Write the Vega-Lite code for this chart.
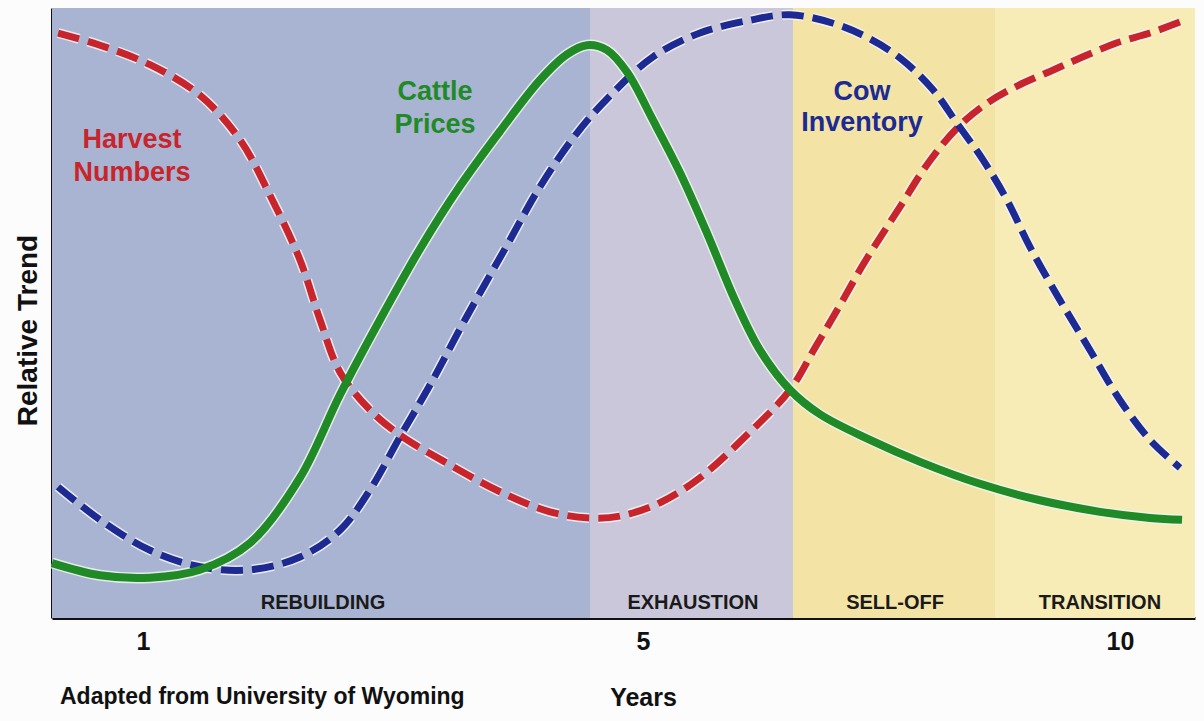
{
  "$schema": "https://vega.github.io/schema/vega-lite/v6.json",
  "width": 1143,
  "height": 610,
  "autosize": {"type": "none"},
  "padding": {"left": 52, "top": 8, "right": 9, "bottom": 103},
  "background": "#fcfcfd",
  "config": {"view": {"stroke": null}, "font": "Liberation Sans"},
  "title": {
    "text": "Adapted from University of Wyoming",
    "orient": "bottom",
    "anchor": "start",
    "frame": "group",
    "offset": -24,
    "dx": 8,
    "fontSize": 23,
    "fontWeight": "bold",
    "color": "#111111"
  },
  "datasets": {
    "phases": [
      {"phase": "REBUILDING", "year": 0.272, "year_end": 4.576, "mid": 2.44, "value": 2.46},
      {"phase": "EXHAUSTION", "year": 4.576, "year_end": 6.572, "mid": 5.524, "value": 2.46},
      {"phase": "SELL-OFF", "year": 6.572, "year_end": 8.69, "mid": 7.642, "value": 2.46},
      {"phase": "TRANSITION", "year": 8.69, "year_end": 10.786, "mid": 9.79, "value": 2.46}
    ],
    "curves": [
      {"series": "Harvest Numbers", "year": 0.32, "value": 95.9},
      {"series": "Harvest Numbers", "year": 0.656, "value": 93.9},
      {"series": "Harvest Numbers", "year": 1.056, "value": 90.7},
      {"series": "Harvest Numbers", "year": 1.456, "value": 85.7},
      {"series": "Harvest Numbers", "year": 1.776, "value": 78.4},
      {"series": "Harvest Numbers", "year": 2.016, "value": 69.3},
      {"series": "Harvest Numbers", "year": 2.256, "value": 58.7},
      {"series": "Harvest Numbers", "year": 2.416, "value": 48.9},
      {"series": "Harvest Numbers", "year": 2.576, "value": 40.3},
      {"series": "Harvest Numbers", "year": 2.816, "value": 34.1},
      {"series": "Harvest Numbers", "year": 3.056, "value": 30.0},
      {"series": "Harvest Numbers", "year": 3.456, "value": 25.1},
      {"series": "Harvest Numbers", "year": 3.856, "value": 20.7},
      {"series": "Harvest Numbers", "year": 4.256, "value": 17.4},
      {"series": "Harvest Numbers", "year": 4.576, "value": 16.4},
      {"series": "Harvest Numbers", "year": 4.816, "value": 16.7},
      {"series": "Harvest Numbers", "year": 5.178, "value": 18.9},
      {"series": "Harvest Numbers", "year": 5.597, "value": 23.0},
      {"series": "Harvest Numbers", "year": 6.122, "value": 30.5},
      {"series": "Harvest Numbers", "year": 6.541, "value": 37.4},
      {"series": "Harvest Numbers", "year": 6.803, "value": 44.3},
      {"series": "Harvest Numbers", "year": 7.065, "value": 51.3},
      {"series": "Harvest Numbers", "year": 7.306, "value": 57.9},
      {"series": "Harvest Numbers", "year": 7.516, "value": 63.1},
      {"series": "Harvest Numbers", "year": 7.694, "value": 67.4},
      {"series": "Harvest Numbers", "year": 7.977, "value": 74.3},
      {"series": "Harvest Numbers", "year": 8.291, "value": 80.3},
      {"series": "Harvest Numbers", "year": 8.606, "value": 84.4},
      {"series": "Harvest Numbers", "year": 8.92, "value": 87.2},
      {"series": "Harvest Numbers", "year": 9.266, "value": 89.6},
      {"series": "Harvest Numbers", "year": 9.612, "value": 92.0},
      {"series": "Harvest Numbers", "year": 9.969, "value": 94.3},
      {"series": "Harvest Numbers", "year": 10.314, "value": 95.9},
      {"series": "Harvest Numbers", "year": 10.629, "value": 97.7},
      {"series": "Cow Inventory", "year": 0.32, "value": 21.5},
      {"series": "Cow Inventory", "year": 0.656, "value": 16.1},
      {"series": "Cow Inventory", "year": 1.056, "value": 11.1},
      {"series": "Cow Inventory", "year": 1.456, "value": 8.4},
      {"series": "Cow Inventory", "year": 1.856, "value": 7.9},
      {"series": "Cow Inventory", "year": 2.256, "value": 10.0},
      {"series": "Cow Inventory", "year": 2.576, "value": 14.4},
      {"series": "Cow Inventory", "year": 2.816, "value": 21.0},
      {"series": "Cow Inventory", "year": 3.056, "value": 29.7},
      {"series": "Cow Inventory", "year": 3.296, "value": 38.2},
      {"series": "Cow Inventory", "year": 3.576, "value": 48.9},
      {"series": "Cow Inventory", "year": 3.912, "value": 61.1},
      {"series": "Cow Inventory", "year": 4.176, "value": 70.7},
      {"series": "Cow Inventory", "year": 4.472, "value": 79.5},
      {"series": "Cow Inventory", "year": 4.76, "value": 86.1},
      {"series": "Cow Inventory", "year": 5.105, "value": 92.0},
      {"series": "Cow Inventory", "year": 5.597, "value": 95.9},
      {"series": "Cow Inventory", "year": 6.122, "value": 98.0},
      {"series": "Cow Inventory", "year": 6.541, "value": 98.9},
      {"series": "Cow Inventory", "year": 6.992, "value": 97.5},
      {"series": "Cow Inventory", "year": 7.348, "value": 95.2},
      {"series": "Cow Inventory", "year": 7.694, "value": 91.8},
      {"series": "Cow Inventory", "year": 8.04, "value": 86.6},
      {"series": "Cow Inventory", "year": 8.291, "value": 81.1},
      {"series": "Cow Inventory", "year": 8.564, "value": 75.1},
      {"series": "Cow Inventory", "year": 8.816, "value": 68.5},
      {"series": "Cow Inventory", "year": 9.057, "value": 60.8},
      {"series": "Cow Inventory", "year": 9.371, "value": 52.1},
      {"series": "Cow Inventory", "year": 9.686, "value": 43.9},
      {"series": "Cow Inventory", "year": 10.0, "value": 35.7},
      {"series": "Cow Inventory", "year": 10.314, "value": 29.2},
      {"series": "Cow Inventory", "year": 10.629, "value": 24.6},
      {"series": "Cattle Prices", "year": 0.272, "value": 9.0},
      {"series": "Cattle Prices", "year": 0.656, "value": 7.0},
      {"series": "Cattle Prices", "year": 1.056, "value": 6.6},
      {"series": "Cattle Prices", "year": 1.456, "value": 7.9},
      {"series": "Cattle Prices", "year": 1.856, "value": 12.3},
      {"series": "Cattle Prices", "year": 2.256, "value": 23.0},
      {"series": "Cattle Prices", "year": 2.576, "value": 36.6},
      {"series": "Cattle Prices", "year": 2.896, "value": 48.9},
      {"series": "Cattle Prices", "year": 3.216, "value": 60.5},
      {"series": "Cattle Prices", "year": 3.536, "value": 70.8},
      {"series": "Cattle Prices", "year": 3.856, "value": 79.8},
      {"series": "Cattle Prices", "year": 4.176, "value": 88.2},
      {"series": "Cattle Prices", "year": 4.392, "value": 92.4},
      {"series": "Cattle Prices", "year": 4.552, "value": 93.9},
      {"series": "Cattle Prices", "year": 4.712, "value": 93.1},
      {"series": "Cattle Prices", "year": 4.872, "value": 89.5},
      {"series": "Cattle Prices", "year": 5.105, "value": 81.6},
      {"series": "Cattle Prices", "year": 5.388, "value": 73.0},
      {"series": "Cattle Prices", "year": 5.671, "value": 63.1},
      {"series": "Cattle Prices", "year": 5.964, "value": 52.1},
      {"series": "Cattle Prices", "year": 6.226, "value": 43.9},
      {"series": "Cattle Prices", "year": 6.541, "value": 37.4},
      {"series": "Cattle Prices", "year": 6.855, "value": 33.4},
      {"series": "Cattle Prices", "year": 7.379, "value": 29.2},
      {"series": "Cattle Prices", "year": 7.904, "value": 25.6},
      {"series": "Cattle Prices", "year": 8.532, "value": 22.0},
      {"series": "Cattle Prices", "year": 9.161, "value": 19.3},
      {"series": "Cattle Prices", "year": 9.79, "value": 17.4},
      {"series": "Cattle Prices", "year": 10.314, "value": 16.4},
      {"series": "Cattle Prices", "year": 10.65, "value": 16.1}
    ],
    "labels": [
      {"series": "Harvest Numbers", "text": "Harvest", "year": 0.912, "value": 78.4},
      {"series": "Harvest Numbers", "text": "Numbers", "year": 0.912, "value": 73.0},
      {"series": "Cattle Prices", "text": "Cattle", "year": 3.336, "value": 86.2},
      {"series": "Cattle Prices", "text": "Prices", "year": 3.336, "value": 80.8},
      {"series": "Cow Inventory", "text": "Cow", "year": 7.296, "value": 86.2},
      {"series": "Cow Inventory", "text": "Inventory", "year": 7.296, "value": 81.1}
    ]
  },
  "layer": [
    {
      "data": {"name": "phases"},
      "mark": {"type": "rect"},
      "encoding": {
        "x": {
          "field": "year",
          "type": "quantitative",
          "scale": {"domain": [0.272, 1, 5, 10, 10.786], "range": [0, 91, 591, 1068, 1143], "nice": false, "zero": false},
          "axis": {
            "values": [1, 5, 10],
            "format": "d",
            "title": "Years",
            "titleFontSize": 25,
            "titleFontWeight": "bold",
            "titleColor": "#111111",
            "titleX": 591,
            "titleY": 79,
            "titleBaseline": "middle",
            "titleAlign": "center",
            "labelFontSize": 25,
            "labelFontWeight": "bold",
            "labelColor": "#111111",
            "labelPadding": 11,
            "ticks": false,
            "grid": false,
            "domainColor": "#111111",
            "domainWidth": 3
          }
        },
        "x2": {"field": "year_end"},
        "fill": {
          "field": "phase",
          "type": "nominal",
          "scale": {"domain": ["REBUILDING", "EXHAUSTION", "SELL-OFF", "TRANSITION"], "range": ["#a9b3d2", "#c9c7d9", "#f3e4a6", "#f7ebb6"]},
          "legend": null
        }
      }
    },
    {
      "data": {"name": "phases"},
      "mark": {"type": "text", "fontSize": 20, "fontWeight": "bold", "fill": "#1a1a1a", "baseline": "middle", "align": "center"},
      "encoding": {
        "x": {"field": "mid", "type": "quantitative"},
        "y": {"field": "value", "type": "quantitative"},
        "text": {"field": "phase"}
      }
    },
    {
      "data": {"name": "curves"},
      "transform": [{"filter": "datum.series !== 'Cattle Prices'"}],
      "mark": {"type": "line", "interpolate": "catmull-rom", "stroke": "#f4f4f8", "strokeWidth": 10, "strokeDash": [22, 9], "strokeCap": "butt", "opacity": 0.85},
      "encoding": {
        "x": {"field": "year", "type": "quantitative"},
        "y": {"field": "value", "type": "quantitative"},
        "detail": {"field": "series"}
      }
    },
    {
      "data": {"name": "curves"},
      "transform": [{"filter": "datum.series === 'Cattle Prices'"}],
      "mark": {"type": "line", "interpolate": "catmull-rom", "stroke": "#eef4ee", "strokeWidth": 11, "opacity": 0.85},
      "encoding": {
        "x": {"field": "year", "type": "quantitative"},
        "y": {"field": "value", "type": "quantitative"},
        "detail": {"field": "series"}
      }
    },
    {
      "data": {"name": "curves"},
      "transform": [{"filter": "datum.series !== 'Cattle Prices'"}],
      "mark": {"type": "line", "interpolate": "catmull-rom", "strokeWidth": 7, "strokeDash": [22, 9], "strokeCap": "butt"},
      "encoding": {
        "x": {"field": "year", "type": "quantitative"},
        "y": {
          "field": "value",
          "type": "quantitative",
          "scale": {"domain": [0, 100], "nice": false},
          "axis": {
            "title": "Relative Trend",
            "titleFontSize": 28,
            "titleFontWeight": "bold",
            "titleColor": "#111111",
            "titleX": -24,
            "titleY": 322,
            "titleAngle": 270,
            "titleAlign": "center",
            "titleBaseline": "middle",
            "labels": false,
            "ticks": false,
            "grid": false,
            "domainColor": "#111111",
            "domainWidth": 3
          }
        },
        "color": {
          "field": "series",
          "type": "nominal",
          "scale": {"domain": ["Harvest Numbers", "Cattle Prices", "Cow Inventory"], "range": ["#c8242b", "#1f8a26", "#1c2a92"]},
          "legend": null
        }
      }
    },
    {
      "data": {"name": "curves"},
      "transform": [{"filter": "datum.series === 'Cattle Prices'"}],
      "mark": {"type": "line", "interpolate": "catmull-rom", "strokeWidth": 8},
      "encoding": {
        "x": {"field": "year", "type": "quantitative"},
        "y": {"field": "value", "type": "quantitative"},
        "color": {"field": "series", "type": "nominal"}
      }
    },
    {
      "data": {"name": "labels"},
      "mark": {"type": "text", "fontSize": 27, "fontWeight": "bold", "align": "center", "baseline": "middle"},
      "encoding": {
        "x": {"field": "year", "type": "quantitative"},
        "y": {"field": "value", "type": "quantitative"},
        "text": {"field": "text"},
        "color": {"field": "series", "type": "nominal"}
      }
    }
  ]
}
